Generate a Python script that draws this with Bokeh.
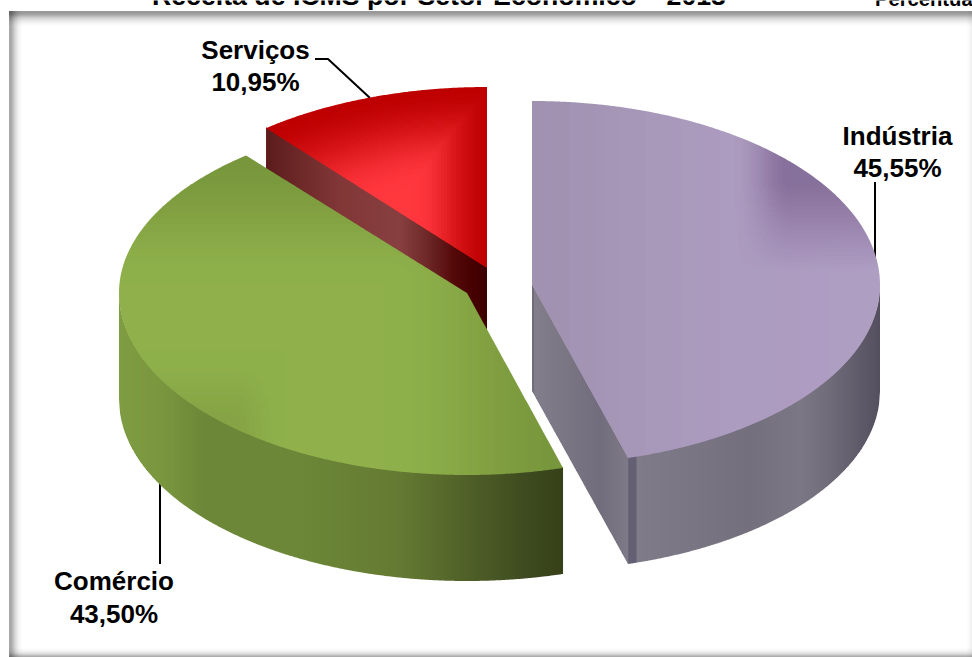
import math

import numpy as np
from bokeh.core.properties import value
from bokeh.embed import file_html
from bokeh.models import ColumnDataSource
from bokeh.plotting import figure
from bokeh.resources import INLINE

# Revenue shares per sector, in percent, clockwise from twelve o'clock
sectors = ["Indústria", "Comércio", "Serviços"]
shares = [45.55, 43.50, 10.95]
title_text = "Receita de ICMS por Setor Econômico – 2013"
unit_text = "Percentual"

W, H = 972, 657
RX = 348.0
DEPTH = 106.0

# Screen placement of each exploded slice: centre x, centre y, back and front semi-axis
placement = {
    "Indústria": (532.0, 285.0, 184.0, 180.0),
    "Comércio": (467.0, 293.0, 178.0, 182.0),
    "Serviços": (487.0, 268.0, 181.0, 181.0),
}

total = sum(shares)
starts = np.concatenate([[0.0], np.cumsum(shares)[:-1]]) / total * 360.0
ends = np.cumsum(shares) / total * 360.0
span = {s: (float(a), float(b)) for s, a, b in zip(sectors, starts, ends)}


def rim(sector, r, deg):
    cx, cy, back, front = placement[sector]
    t = math.radians(deg)
    ry = back if math.cos(t) > 0 else front
    return cx + r * RX * math.sin(t), cy - r * ry * math.cos(t)


def smooth(a, b, x):
    t = min(max((x - a) / (b - a), 0.0), 1.0)
    return t * t * (3 - 2 * t)


def linear(a, b, x):
    return min(max((x - a) / (b - a), 0.0), 1.0)


def mix(c0, c1, t):
    return tuple(u + (v - u) * t for u, v in zip(c0, c1))


def hexcolor(c, step=1):
    q = [int(round(min(max(v, 0), 255) / step) * step) for v in c]
    return "#%02x%02x%02x" % tuple(min(v, 255) for v in q)


def ramp(stops, x):
    xs = [s[0] for s in stops]
    return tuple(float(np.interp(x, xs, [s[1][i] for s in stops])) for i in range(3))


def clip_side(poly, axis, limit, keep_below):
    """One Sutherland-Hodgman pass against an axis-aligned line."""
    out = []
    n = len(poly)
    for i in range(n):
        a, b = poly[i], poly[(i + 1) % n]
        ina = a[axis] <= limit if keep_below else a[axis] >= limit
        inb = b[axis] <= limit if keep_below else b[axis] >= limit
        if ina:
            out.append(a)
        if ina != inb:
            t = (limit - a[axis]) / (b[axis] - a[axis])
            out.append((a[0] + (b[0] - a[0]) * t, a[1] + (b[1] - a[1]) * t))
    return out


def clip_band(poly, axis, lo, hi):
    poly = clip_side(poly, axis, lo, False)
    if len(poly) < 3:
        return []
    return clip_side(poly, axis, hi, True)


# Shading of the top faces
def shade_industria(x, y, r):
    base = ramp([(532, (160, 145, 176)), (720, (172, 155, 191)), (880, (175, 158, 195))], x)
    d = smooth(732, 792, x) * linear(272, 183, y)
    return mix(base, (134, 111, 155), d)


def shade_comercio(x, y, r):
    light = smooth(155, 285, y) * smooth(565, 385, x)
    c = mix((120, 150, 60), (143, 177, 75), light)
    corner = smooth(285, 232, x) * smooth(350, 425, y)
    return mix(c, (133, 164, 69), corner)


def shade_servicos(x, y, r):
    v = min(smooth(490, 412, x), smooth(1.0, 0.5, r))
    return mix((190, 0, 0), (255, 55, 62), v)


top_shaders = {"Indústria": shade_industria, "Comércio": shade_comercio, "Serviços": shade_servicos}

# Colour along the walls, keyed by screen x
cut_wall_stops = {
    "Indústria": [(532, (104, 99, 116)), (535, (130, 125, 138)), (600, (114, 109, 124)), (628, (126, 121, 134))],
    "Serviços": [(266, (92, 28, 28)), (340, (130, 55, 55)), (400, (135, 63, 63)), (427, (110, 40, 40)),
                 (453, (85, 10, 10)), (473, (70, 0, 0)), (487, (60, 0, 0))],
}
outer_wall_stops = {
    "Indústria": [(628, (100, 95, 115)), (636, (100, 95, 115)), (637, (128, 123, 136)), (750, (116, 111, 125)),
                  (800, (124, 119, 132)), (830, (112, 107, 121)), (880, (84, 79, 94))],
    "Comércio": [(120, (126, 156, 66)), (160, (122, 151, 63)), (205, (108, 135, 55)), (300, (108, 135, 55)),
                 (400, (100, 122, 50)), (467, (80, 96, 40)), (533, (60, 72, 30)), (563, (55, 65, 25))],
}


class Layer:
    def __init__(self):
        self.xs, self.ys, self.colors = [], [], []

    def add(self, poly, color):
        self.xs.append([round(float(q[0]), 2) for q in poly])
        self.ys.append([round(float(q[1]), 2) for q in poly])
        self.colors.append(color)


def columns(x0, x1, width):
    """Integer-aligned column edges covering x0..x1."""
    edges = [x0]
    v = math.floor(x0 / width) * width + width
    while v < x1:
        edges.append(float(v))
        v += width
    edges.append(x1)
    return edges


def draw_cut_wall(layer, sector, deg):
    """Flat wall between the slice centre and its rim at the given angle."""
    xa, ya = rim(sector, 0.0, deg)
    xb, yb = rim(sector, 1.0, deg)
    if xa > xb:
        xa, ya, xb, yb = xb, yb, xa, ya
    slope = (yb - ya) / (xb - xa)
    edges = columns(xa, xb, 2)
    for u, v in zip(edges[:-1], edges[1:]):
        yu, yv = ya + slope * (u - xa), ya + slope * (v - xa)
        c = ramp(cut_wall_stops[sector], (u + v) / 2)
        layer.add([(u, yu - 1), (v, yv - 1), (v, yv + DEPTH), (u, yu + DEPTH)], hexcolor(c))


def draw_outer_wall(layer, sector, deg0, deg1):
    """Curved wall following the front rim of the slice."""
    cx, cy, back, front = placement[sector]
    xa, xb = sorted((rim(sector, 1.0, deg0)[0], rim(sector, 1.0, deg1)[0]))

    def front_y(x):
        return cy + front * math.sqrt(max(0.0, 1 - ((x - cx) / RX) ** 2))

    edges = columns(xa, xb, 1)
    for u, v in zip(edges[:-1], edges[1:]):
        yu, yv = front_y(u), front_y(v)
        c = ramp(outer_wall_stops[sector], (u + v) / 2)
        layer.add([(u, yu - 1), (v, yv - 1), (v, yv + DEPTH), (u, yu + DEPTH)], hexcolor(c))


def draw_top(layer, sector, col=3, row=2):
    """Top face cut into integer-aligned tiles; runs of one colour are merged."""
    cx, cy, back, front = placement[sector]
    a0, a1 = span[sector]
    n = int(math.ceil((a1 - a0) / 0.5))
    poly = [rim(sector, 0.0, a0)] + [rim(sector, 1.0, a0 + (a1 - a0) * i / n) for i in range(n + 1)]
    xlo, xhi = min(q[0] for q in poly), max(q[0] for q in poly)
    shader = top_shaders[sector]
    x = math.floor(xlo / col) * col
    while x < xhi:
        strip = clip_band(poly, 0, x, x + col)
        x_mid = x + col / 2
        x += col
        if len(strip) < 3:
            continue
        ylo = math.floor(min(q[1] for q in strip) / row) * row
        yhi = math.ceil(max(q[1] for q in strip) / row) * row
        run_start, run_color = ylo, None
        for y in range(ylo, yhi + row, row):
            if y < yhi:
                dy = y + row / 2 - cy
                ry = back if dy < 0 else front
                r = math.hypot((x_mid - cx) / RX, dy / ry)
                color = hexcolor(shader(x_mid, y + row / 2, r), 2)
            else:
                color = None
            if color != run_color:
                if run_color is not None:
                    piece = clip_band(strip, 1, run_start, y)
                    if len(piece) >= 3:
                        layer.add(piece, run_color)
                run_start, run_color = y, color


# The SVG context sits half a pixel off, so the ranges start at 0.5 to put tiles on whole pixels
p = figure(width=W, height=H, x_range=(0.5, W + 0.5), y_range=(H + 0.5, 0.5), output_backend="svg",
           toolbar_location=None, min_border=0, background_fill_color="white",
           border_fill_color="white", outline_line_color=None)
p.axis.visible = False
p.grid.visible = False

# Soft inner shadow of the panel
frame_left, frame_top = 9.0, 11.0
top_fade = [0.40, 0.40, 0.38, 0.35, 0.30, 0.25, 0.20, 0.16, 0.13, 0.10, 0.07, 0.05, 0.03, 0.02, 0.01]
left_fade = [0.34, 0.34, 0.32, 0.28, 0.23, 0.18, 0.14, 0.11, 0.08, 0.05, 0.03, 0.02, 0.01]
bottom_fade = [0.32, 0.26, 0.19, 0.13, 0.09, 0.06, 0.04, 0.02, 0.01]
right_fade = [0.06, 0.04, 0.03, 0.02, 0.01]
for i, a in enumerate(top_fade):
    p.quad(left=frame_left, right=W + 1, top=frame_top + i, bottom=frame_top + i + 1,
           fill_color="black", fill_alpha=a, line_color=None)
for i, a in enumerate(left_fade):
    p.quad(left=frame_left + i, right=frame_left + i + 1, top=frame_top, bottom=H + 1,
           fill_color="black", fill_alpha=a, line_color=None)
for i, a in enumerate(bottom_fade):
    p.quad(left=frame_left, right=W + 1, top=H - i - 1, bottom=H - i,
           fill_color="black", fill_alpha=a, line_color=None)
for i, a in enumerate(right_fade):
    p.quad(left=W - i - 1, right=W - i, top=frame_top, bottom=H + 1,
           fill_color="black", fill_alpha=a, line_color=None)

# Leader lines run under the slices
p.line([315, 328, 370], [59, 59, 98], line_color="black", line_width=2)
p.line([875, 875], [182, 258], line_color="black", line_width=2)
p.line([160, 160], [483, 564], line_color="black", line_width=2)

# Back to front: Serviços, then Comércio, then Indústria
pie = Layer()
draw_cut_wall(pie, "Serviços", span["Serviços"][0])
draw_top(pie, "Serviços")
draw_outer_wall(pie, "Comércio", span["Comércio"][0], 270.0)
draw_top(pie, "Comércio")
draw_cut_wall(pie, "Indústria", span["Indústria"][1])
draw_outer_wall(pie, "Indústria", 90.0, span["Indústria"][1])
draw_top(pie, "Indústria")
p.patches("xs", "ys", source=ColumnDataSource(dict(xs=pie.xs, ys=pie.ys, color=pie.colors)),
          fill_color="color", line_color=None)

font = value("Liberation Sans")


def bold_text(x, baseline, text, size, align="center"):
    # The vertical anchor is the middle of the line: lift it to land on the baseline
    p.text([x], [baseline - 0.34 * size], text=[text], text_font=font, text_font_style="bold",
           text_font_size=f"{size}px", text_align=align, text_baseline="middle", text_color="black")


def pct(v):
    return f"{v:.2f}".replace(".", ",") + "%"


label_spots = {"Indústria": (897.5, 145, 177), "Comércio": (114, 590, 623), "Serviços": (255.5, 59, 91)}
for name, v in zip(sectors, shares):
    x, y0, y1 = label_spots[name]
    bold_text(x, y0, name, 26)
    bold_text(x, y1, pct(v), 26)

bold_text(152, 5, title_text, 26.7, "left")
bold_text(875, 6, unit_text, 20.2, "left")

open("out.html", "w").write(file_html(p, INLINE))
